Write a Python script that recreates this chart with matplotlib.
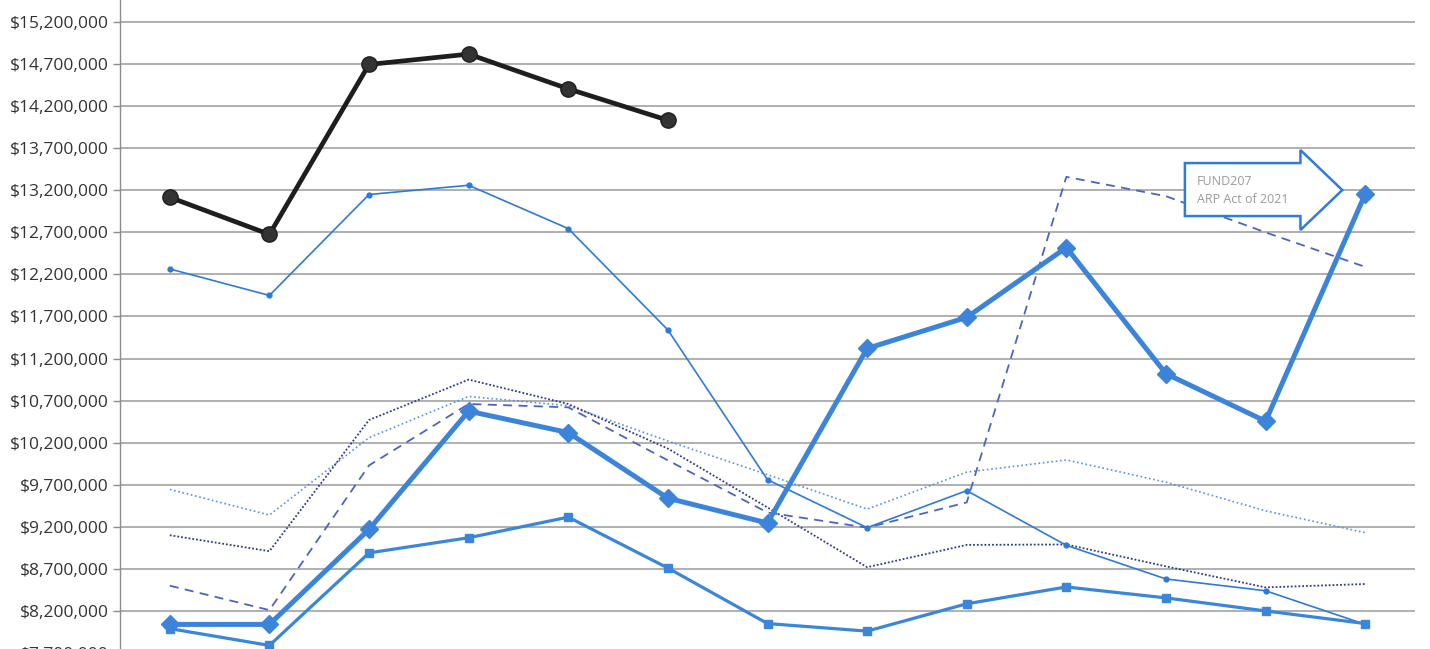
import matplotlib
matplotlib.use("Agg")
import matplotlib.pyplot as plt
import numpy as np
from matplotlib.patches import Polygon
from matplotlib.ticker import FuncFormatter

# ---- data (values in dollars) ----
categories = [str(i) for i in range(1, 14)]
black_series = [13117000, 12676000, 14696000, 14819000, 14406000, 14033000]
blue_thin = [12265000, 11950000, 13150000, 13260000, 12745000, 11540000, 9760000,
             9190000, 9630000, 8980000, 8580000, 8440000, 8040000]
blue_diamond = [8040000, 8040000, 9170000, 10575000, 10320000, 9540000, 9245000,
                11320000, 11690000, 12520000, 11020000, 10455000, 13155000]
blue_square = [7990000, 7790000, 8890000, 9070000, 9315000, 8710000, 8050000,
               7960000, 8285000, 8485000, 8355000, 8200000, 8050000]
dashed_series = [8500000, 8210000, 9930000, 10660000, 10620000, 9990000, 9370000,
                 9190000, 9490000, 13360000, 13130000, 12700000, 12290000]
dark_dotted = [9100000, 8910000, 10470000, 10950000, 10660000, 10130000, 9430000,
               8720000, 8985000, 8990000, 8730000, 8480000, 8520000]
light_dotted = [9645000, 9340000, 10260000, 10750000, 10640000, 10220000, 9820000,
                9410000, 9850000, 9995000, 9730000, 9390000, 9130000]
annotation_lines = ["FUND207", "ARP Act of 2021"]
y_min, y_max, y_step = 7700000, 15700000, 500000
y_last_tick = 15200000

W, H = 1430, 649
fig = plt.figure(figsize=(W / 100, H / 100), dpi=100)
# plot area extends slightly past the picture edges (cropped look of the reference)
ax_left, ax_right = 120, 1415
y_top_px, y_bot_px = -20, 653
ax = fig.add_axes([ax_left / W, 1 - y_bot_px / H, (ax_right - ax_left) / W,
                   (y_bot_px - y_top_px) / H])

x_all = list(range(len(categories)))
x_black = x_all[:len(black_series)]

ax.plot(x_all, light_dotted, color="#5B8FE0", lw=1.2, ls=(0, (1, 1.6)), zorder=2)
ax.plot(x_all, dark_dotted, color="#2F3A86", lw=1.3, ls=(0, (1, 1.1)), zorder=2)
ax.plot(x_all, dashed_series, color="#4F62C2", lw=1.3, ls=(0, (5, 3.5)), zorder=2)
ax.plot(x_all, blue_thin, color="#2E7AD8", lw=1.2, marker="o", ms=3.5, zorder=3)
ax.plot(x_all, blue_square, color="#3A86DA", lw=2.3, marker="s", ms=5.5, zorder=4)
ax.plot(x_all, blue_diamond, color="#3C84D9", lw=3.6, marker="D", ms=9, zorder=5)
ax.plot(x_black, black_series, color="#1E1E1E", lw=3.4, marker="o", ms=11,
        markerfacecolor="#333333", markeredgecolor="#1E1E1E", zorder=6)

# block arrow annotation (data coordinates)
arrow = Polygon([(10.19, 13524000), (11.35, 13524000), (11.35, 13679000),
                 (11.77, 13203000), (11.35, 12728000), (11.35, 12894000),
                 (10.19, 12894000)], closed=True, facecolor="white",
                edgecolor="#2F7BD8", lw=1.8, zorder=7)
ax.add_patch(arrow)
ax.text(10.31, 13310000, annotation_lines[0], fontsize=9, color="#9A9A9A",
        family="Open Sans", va="center", ha="left", zorder=8)
ax.text(10.31, 13096000, annotation_lines[1], fontsize=9, color="#9A9A9A",
        family="Open Sans", va="center", ha="left", zorder=8)

ax.set_xlim(-0.5, len(categories) - 0.5)
ax.set_ylim(y_min, y_max)
ax.set_yticks(np.arange(y_min, y_last_tick + 1, y_step))
ax.yaxis.set_major_formatter(FuncFormatter(lambda v, p: f"${v:,.0f}"))
ax.set_xticks(x_all)
ax.set_xticklabels([])
ax.grid(axis="y", color="#9A9A9A", lw=1.1)
ax.set_axisbelow(True)
for s in ["top", "right", "bottom"]:
    ax.spines[s].set_visible(False)
ax.spines["left"].set_color("#8C8C8C")
ax.spines["left"].set_linewidth(1.0)
ax.tick_params(axis="y", length=5, width=1.0, color="#8C8C8C", pad=3,
               labelsize=12.5, labelcolor="#333333")
ax.tick_params(axis="x", length=0)
for lab in ax.get_yticklabels():
    lab.set_family("Open Sans")

fig.savefig("out.png", dpi=100)
